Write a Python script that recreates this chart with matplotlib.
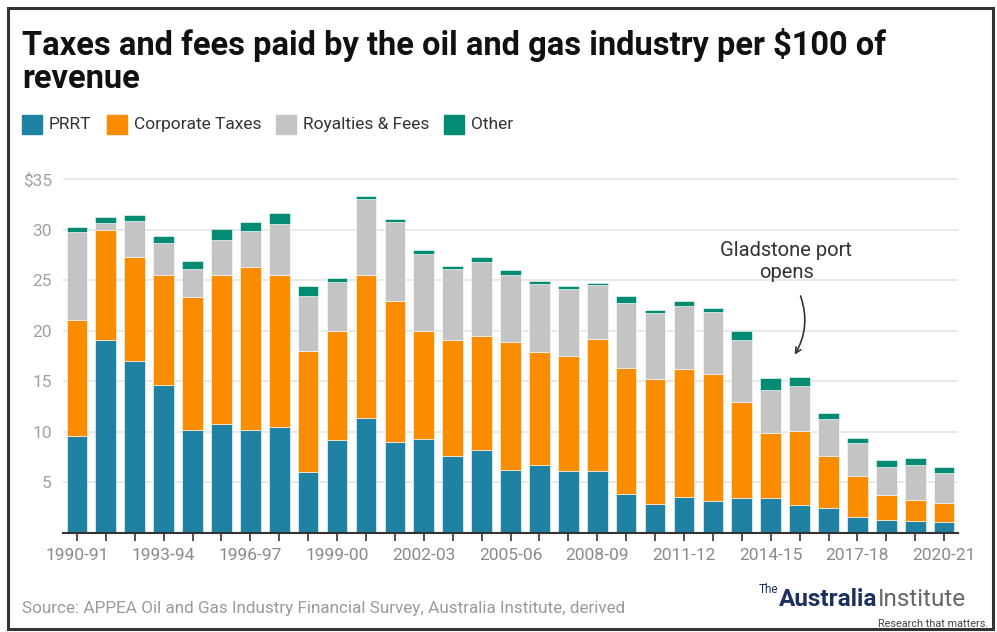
import matplotlib
matplotlib.use("Agg")
import matplotlib.pyplot as plt
from matplotlib.patches import Rectangle
import numpy as np

plt.rcParams['font.family'] = ['Roboto', 'DejaVu Sans']

years = ["1990-91", "1991-92", "1992-93", "1993-94", "1994-95", "1995-96", "1996-97",
         "1997-98", "1998-99", "1999-00", "2000-01", "2001-02", "2002-03", "2003-04",
         "2004-05", "2005-06", "2006-07", "2007-08", "2008-09", "2009-10", "2010-11",
         "2011-12", "2012-13", "2013-14", "2014-15", "2015-16", "2016-17", "2017-18",
         "2018-19", "2019-20", "2020-21"]
prrt = [9.56, 19.1, 17.0, 14.6, 10.2, 10.8, 10.15, 10.5, 6.03, 9.16, 11.4, 8.96, 9.3,
        7.58, 8.17, 6.26, 6.69, 6.16, 6.1, 3.89, 2.83, 3.53, 3.16, 3.43, 3.43, 2.77,
        2.47, 1.61, 1.29, 1.22, 1.09]
corporate = [11.54, 10.9, 10.3, 10.9, 13.1, 14.7, 16.15, 15.0, 11.97, 10.84, 14.1,
             13.94, 10.7, 11.5, 11.33, 12.64, 11.17, 11.31, 13.1, 12.41, 12.37, 12.67,
             12.54, 9.52, 6.49, 7.32, 5.11, 4.06, 2.47, 2.08, 1.84]
royalties = [8.7, 0.7, 3.55, 3.2, 2.8, 3.5, 3.6, 5.1, 5.4, 4.85, 7.56, 7.85, 7.6, 6.99,
             7.3, 6.6, 6.79, 6.69, 5.3, 6.4, 6.55, 6.3, 6.2, 6.13, 4.25, 4.41, 3.66,
             3.2, 2.8, 3.39, 3.0]
other = [0.46, 0.6, 0.65, 0.7, 0.85, 1.06, 0.85, 1.0, 1.0, 0.4, 0.29, 0.35, 0.4, 0.36,
         0.5, 0.5, 0.3, 0.26, 0.22, 0.7, 0.3, 0.47, 0.4, 0.86, 1.19, 0.96, 0.66, 0.56,
         0.63, 0.73, 0.63]

series = [("PRRT", prrt, "#1f82a3"),
          ("Corporate Taxes", corporate, "#fa8c00"),
          ("Royalties & Fees", royalties, "#c4c4c4"),
          ("Other", other, "#038c73")]

fig = plt.figure(figsize=(9.97, 6.32), dpi=100)
ax = fig.add_axes([0.0632, 0.1566, 0.8977, 0.568])

x = np.arange(len(years))
bottom = np.zeros(len(years))
for name, vals, col in series:
    ax.bar(x, vals, bottom=bottom, width=0.715, color=col, edgecolor="#ffffff",
           linewidth=0.4, zorder=3)
    bottom += np.array(vals)

ax.set_xlim(-0.48, len(years) - 0.52)
ax.set_ylim(0, 35.5)
ax.set_yticks([5, 10, 15, 20, 25, 30, 35])
ax.set_yticklabels(["5", "10", "15", "20", "25", "30", "$35"])
ax.tick_params(axis="y", length=0, pad=8, labelsize=12.5, labelcolor="#a0a0a0")
ax.grid(axis="y", color="#e9e9e9", linewidth=1.4, zorder=0)

ax.set_xticks(x)
ax.set_xticklabels([y if i % 3 == 0 else "" for i, y in enumerate(years)])
ax.tick_params(axis="x", length=6, width=1.2, color="#333333", pad=5,
               labelsize=12.5, labelcolor="#8a8a8a")
for s in ["top", "right", "left"]:
    ax.spines[s].set_visible(False)
ax.spines["bottom"].set_color("#333333")
ax.spines["bottom"].set_linewidth(1.5)
ax.spines["bottom"].set_zorder(4)

# annotation
ax.text(24.53, 26.85, "Gladstone port\nopens", ha="center", va="center",
        fontsize=14.5, color="#333333", linespacing=1.15)
ax.annotate("", xy=(24.78, 17.4), xytext=(25.0, 23.7),
            arrowprops=dict(arrowstyle="->", color="#333333", lw=1.2,
                            connectionstyle="arc3,rad=-0.25"))

# title
fig.text(0.022, 1 - 55 / 632, "Taxes and fees paid by the oil and gas industry per $100 of",
         ha="left", va="baseline", fontsize=23.5, fontweight="bold", color="#111111")
fig.text(0.022, 1 - 88 / 632, "revenue",
         ha="left", va="baseline", fontsize=23.5, fontweight="bold", color="#111111")

# legend
lx = 22
for name, vals, col in series:
    fig.patches.append(Rectangle((lx / 997, 1 - 134 / 632), 20 / 997, 19 / 632,
                                 transform=fig.transFigure, color=col))
    t = fig.text((lx + 27) / 997, 1 - 125 / 632, name, ha="left", va="center",
                 fontsize=12.5, color="#333333")
    fig.canvas.draw()
    bb = t.get_window_extent()
    lx = bb.x1 + 15

# source and logo
fig.text(0.022, 1 - 608 / 632,
         "Source: APPEA Oil and Gas Industry Financial Survey, Australia Institute, derived",
         ha="left", va="center", fontsize=12.3, color="#9a9a9a")
fig.text(778 / 997, 1 - 593 / 632, "The", ha="right", va="baseline", fontsize=8.5,
         color="#1d3160")
fig.text(877 / 997, 1 - 606 / 632, "Australia", ha="right", va="baseline", fontsize=17.5,
         fontweight="bold", color="#1d3160")
fig.text(878 / 997, 1 - 606 / 632, "Institute", ha="left", va="baseline", fontsize=17.5,
         color="#666666")
fig.text(988 / 997, 1 - 624 / 632, "Research that matters.", ha="right", va="center",
         fontsize=7.8, color="#444444")

# outer frame
fig.patches.append(Rectangle((7.5 / 997, 1 - 629 / 632), 985 / 997, 621 / 632,
                             transform=fig.transFigure, fill=False,
                             edgecolor="#333333", linewidth=2.2))

fig.savefig("out.png", dpi=100)
